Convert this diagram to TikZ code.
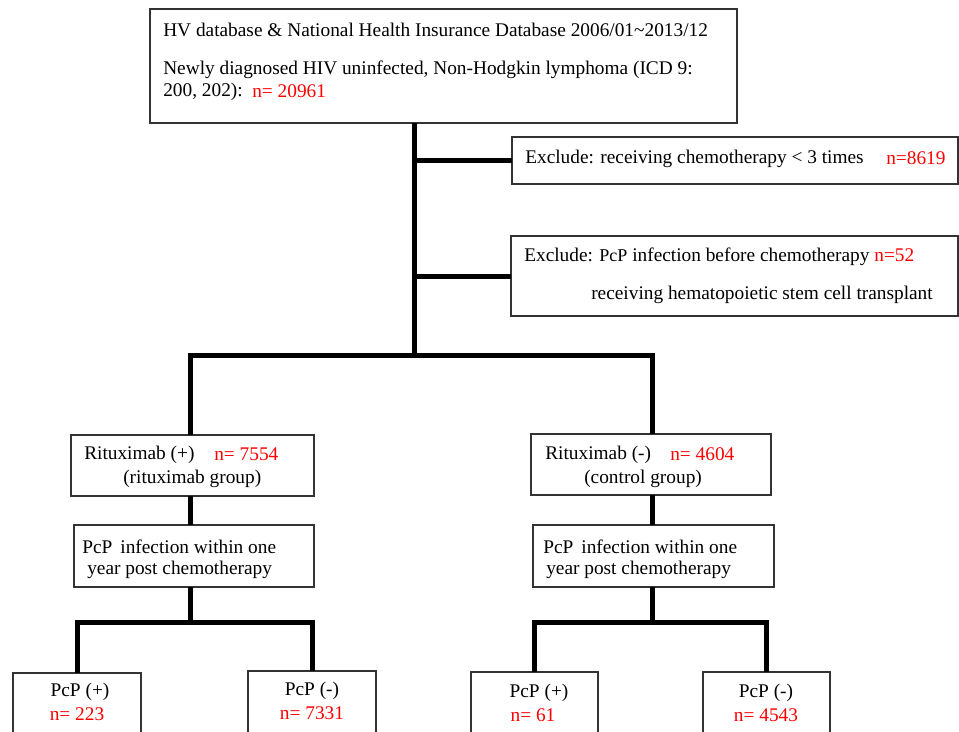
\documentclass[tikz,border=0pt]{standalone}
\usepackage{fontspec}
\setmainfont{Liberation Serif}
\begin{document}
\begin{tikzpicture}[x=0.75pt,y=-0.75pt,
  box/.style={draw=black!80, line width=1.1pt, fill=white, rectangle, anchor=north west, inner sep=0pt, outer sep=0pt},
  conn/.style={line width=3.75pt, line join=miter},
  txt/.style={anchor=west, inner sep=0pt, yshift=-1.2pt, font=\fontsize{14.5}{17}\selectfont},
  ctxt/.style={anchor=center, inner sep=0pt, yshift=-1.2pt, font=\fontsize{14.5}{17}\selectfont},
  nred/.style={text=red}]
\useasboundingbox (0,0) rectangle (959,731);
\clip (0,0) rectangle (959,731);
\coordinate (sp) at (414,355);
\coordinate (s1) at (190,622);
\coordinate (s2) at (652,622);
% boxes
\node[box, minimum width=440.25pt, minimum height=85.5pt] (top) at (150,9) {};
\node[box, minimum width=334.5pt, minimum height=35.25pt] (ex1) at (512,137) {};
\node[box, minimum width=335.25pt, minimum height=60pt] (ex2) at (511,236) {};
\node[box, minimum width=182.25pt, minimum height=45.75pt] (rp) at (71,435) {};
\node[box, minimum width=180pt, minimum height=45.75pt] (rm) at (531,434) {};
\node[box, minimum width=180pt, minimum height=46.5pt] (ip) at (74,525) {};
\node[box, minimum width=180.75pt, minimum height=46.5pt] (im) at (533,525) {};
\node[box, minimum width=96pt, minimum height=50.25pt] (pp1) at (13,673) {};
\node[box, minimum width=96pt, minimum height=51.75pt] (pm1) at (248,671) {};
\node[box, minimum width=95.25pt, minimum height=51pt] (pp2) at (471,672) {};
\node[box, minimum width=95.25pt, minimum height=51pt] (pm2) at (703,672) {};
% connectors
\draw[conn] (sp |- top.south) -- (sp);
\draw[conn] (sp |- ex1.west) -- (ex1.west);
\draw[conn] (sp |- ex2.west) -- (ex2.west);
\draw[conn] (s1 |- rp.north) |- (sp) -| (s2 |- rm.north);
\draw[conn] (s1 |- rp.south) -- (s1 |- ip.north);
\draw[conn] (s2 |- rm.south) -- (s2 |- im.north);
\draw[conn] (s1 |- ip.south) -- (s1);
\draw[conn] (s2 |- im.south) -- (s2);
\draw[conn] (pp1.north) |- (s1) -| (pm1.north);
\draw[conn] (pp2.north) |- (s2) -| (pm2.north);
% texts
\node[txt] (t1) at (163,28) {HV database \& National Health Insurance Database 2006/01\textasciitilde2013/12};
\node[txt] (t2) at (163,68) {Newly diagnosed HIV uninfected, Non-Hodgkin lymphoma (ICD 9:};
\node[txt] (t3) at (163,90) {200, 202):};
\node[txt, nred] (t3n) at (252,90) {n= 20961};
\node[txt] (e1) at (525,157) {Exclude: receiving chemotherapy < 3 times};
\node[txt, nred] (e1n) at (886,157) {n=8619};
\node[txt] (e2) at (524,255) {Exclude: {\fontsize{13.5}{16}\selectfont PcP} infection before chemotherapy \textcolor{red}{n=52}};
\node[txt] (e3) at (591,293) {receiving hematopoietic stem cell transplant};
\node[txt] (r1) at (84,453) {Rituximab (+)};
\node[txt, nred] (r1n) at (214,453) {n= 7554};
\node[txt] (r2) at (123,477) {(rituximab group)};
\node[txt] (m1) at (545,453) {Rituximab (-)};
\node[txt, nred] (m1n) at (670,453) {n= 4604};
\node[txt] (m2) at (584,477) {(control group)};
\node[txt] (i1) at (82,545) {PcP\, infection within one};
\node[txt] (i2) at (87,568) {year post chemotherapy};
\node[txt] (j1) at (543,545) {PcP\, infection within one};
\node[txt] (j2) at (546,568) {year post chemotherapy};
\node[ctxt] (a1) at (80,690) {PcP (+)};
\node[ctxt, nred] (a2) at (77,713) {n= 223};
\node[ctxt] (b1) at (312,689) {PcP (-)};
\node[ctxt, nred] (b2) at (312,712) {n= 7331};
\node[ctxt] (c1) at (539,691) {PcP (+)};
\node[ctxt, nred] (c2) at (533,714) {n= 61};
\node[ctxt] (d1) at (766,691) {PcP (-)};
\node[ctxt, nred] (d2) at (766,714) {n= 4543};
\end{tikzpicture}
\end{document}
